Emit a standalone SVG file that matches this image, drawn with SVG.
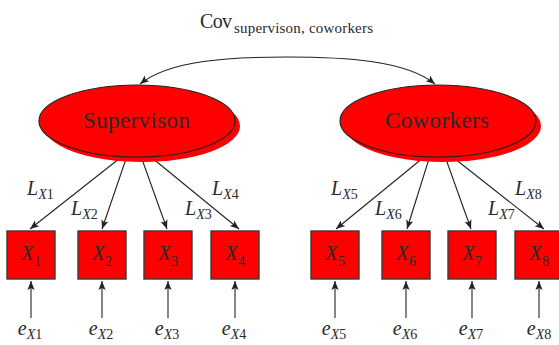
<svg xmlns="http://www.w3.org/2000/svg" width="559" height="345" viewBox="0 0 559 345">
<style>
text{font-family:"Liberation Serif","DejaVu Serif",serif;fill:#2a2a2a}
.lat{fill:#ff0000;stroke:#222;stroke-width:1.2}
.sh{fill:#ff0000;stroke:none}
.box{fill:#ff0000;stroke:#3a3a3a;stroke-width:1.4}
.c{fill:none;stroke:#222;stroke-width:1.1}
.it{font-style:italic}
.nm{font-size:23px}
.bx{font-size:21px}
.lb{font-size:20px}
</style>
<defs>
<marker id="ah" markerUnits="userSpaceOnUse" markerWidth="12" markerHeight="10" viewBox="-10 -5 12 10" refX="0" refY="0" orient="auto">
<path d="M0,0 L-9,-3.6 L-7,0 L-9,3.6 Z" fill="#222"/>
</marker>
</defs>
<text x="200" y="28" font-size="20" textLength="32">Cov</text>
<text x="234" y="33" font-size="15" textLength="139">supervison, coworkers</text>
<g id="connectors">
<path class="c" d="M287,57 C 230,57 170,60 140,84" marker-end="url(#ah)"/>
<path class="c" d="M287,57 C 344,57 405,60 435,84" marker-end="url(#ah)"/>
<line class="c" x1="136.6" y1="145" x2="30" y2="229" marker-end="url(#ah)"/>
<line class="c" x1="130.8" y1="145" x2="102" y2="229" marker-end="url(#ah)"/>
<line class="c" x1="136.9" y1="145" x2="167" y2="229" marker-end="url(#ah)"/>
<line class="c" x1="136.2" y1="145" x2="239" y2="229" marker-end="url(#ah)"/>
<line class="c" x1="438.8" y1="145" x2="336" y2="229" marker-end="url(#ah)"/>
<line class="c" x1="433.3" y1="145" x2="407" y2="229" marker-end="url(#ah)"/>
<line class="c" x1="440.9" y1="145" x2="471" y2="229" marker-end="url(#ah)"/>
<line class="c" x1="437.4" y1="145" x2="544" y2="229" marker-end="url(#ah)"/>
<line class="c" x1="31" y1="318" x2="31" y2="281" marker-end="url(#ah)"/>
<line class="c" x1="102" y1="318" x2="102" y2="281" marker-end="url(#ah)"/>
<line class="c" x1="168" y1="318" x2="168" y2="281" marker-end="url(#ah)"/>
<line class="c" x1="235" y1="318" x2="235" y2="281" marker-end="url(#ah)"/>
<line class="c" x1="335" y1="318" x2="335" y2="281" marker-end="url(#ah)"/>
<line class="c" x1="406" y1="318" x2="406" y2="281" marker-end="url(#ah)"/>
<line class="c" x1="472" y1="318" x2="472" y2="281" marker-end="url(#ah)"/>
<line class="c" x1="539" y1="318" x2="539" y2="281" marker-end="url(#ah)"/>
<g class="lb">
<text x="27" y="195"><tspan class="it">L</tspan><tspan dy="4" font-size="14"><tspan class="it">X</tspan>1</tspan></text>
<text x="71" y="215"><tspan class="it">L</tspan><tspan dy="4" font-size="14"><tspan class="it">X</tspan>2</tspan></text>
<text x="185" y="215"><tspan class="it">L</tspan><tspan dy="4" font-size="14"><tspan class="it">X</tspan>3</tspan></text>
<text x="212" y="195"><tspan class="it">L</tspan><tspan dy="4" font-size="14"><tspan class="it">X</tspan>4</tspan></text>
<text x="331" y="195"><tspan class="it">L</tspan><tspan dy="4" font-size="14"><tspan class="it">X</tspan>5</tspan></text>
<text x="375" y="215"><tspan class="it">L</tspan><tspan dy="4" font-size="14"><tspan class="it">X</tspan>6</tspan></text>
<text x="488" y="215"><tspan class="it">L</tspan><tspan dy="4" font-size="14"><tspan class="it">X</tspan>7</tspan></text>
<text x="515" y="195"><tspan class="it">L</tspan><tspan dy="4" font-size="14"><tspan class="it">X</tspan>8</tspan></text>
</g>
</g>
<g id="supervison">
<ellipse class="sh" cx="142" cy="126" rx="98" ry="36"/>
<ellipse class="lat" cx="137" cy="121" rx="98" ry="36"/>
<text class="nm" x="83" y="128" textLength="107">Supervison</text>
</g>
<g id="coworkers">
<ellipse class="sh" cx="443" cy="126" rx="98" ry="36"/>
<ellipse class="lat" cx="438" cy="121" rx="98" ry="36"/>
<text class="nm" x="385" y="128" textLength="104">Coworkers</text>
</g>
<g id="x1"><rect class="box" x="7" y="231" width="48" height="48"/><text class="bx" x="31" y="260" text-anchor="middle"><tspan class="it">X</tspan><tspan dy="6" font-size="14">1</tspan></text></g>
<g id="x2"><rect class="box" x="78" y="231" width="48" height="48"/><text class="bx" x="102" y="260" text-anchor="middle"><tspan class="it">X</tspan><tspan dy="6" font-size="14">2</tspan></text></g>
<g id="x3"><rect class="box" x="144" y="231" width="48" height="48"/><text class="bx" x="168" y="260" text-anchor="middle"><tspan class="it">X</tspan><tspan dy="6" font-size="14">3</tspan></text></g>
<g id="x4"><rect class="box" x="211" y="231" width="48" height="48"/><text class="bx" x="235" y="260" text-anchor="middle"><tspan class="it">X</tspan><tspan dy="6" font-size="14">4</tspan></text></g>
<g id="x5"><rect class="box" x="311" y="231" width="48" height="48"/><text class="bx" x="335" y="260" text-anchor="middle"><tspan class="it">X</tspan><tspan dy="6" font-size="14">5</tspan></text></g>
<g id="x6"><rect class="box" x="382" y="231" width="48" height="48"/><text class="bx" x="406" y="260" text-anchor="middle"><tspan class="it">X</tspan><tspan dy="6" font-size="14">6</tspan></text></g>
<g id="x7"><rect class="box" x="448" y="231" width="48" height="48"/><text class="bx" x="472" y="260" text-anchor="middle"><tspan class="it">X</tspan><tspan dy="6" font-size="14">7</tspan></text></g>
<g id="x8"><rect class="box" x="515" y="231" width="48" height="48"/><text class="bx" x="539" y="260" text-anchor="middle"><tspan class="it">X</tspan><tspan dy="6" font-size="14">8</tspan></text></g>
<g id="e1"><text class="lb" x="30" y="335" text-anchor="middle"><tspan class="it">e</tspan><tspan dy="4" font-size="14"><tspan class="it">X</tspan>1</tspan></text></g>
<g id="e2"><text class="lb" x="101" y="335" text-anchor="middle"><tspan class="it">e</tspan><tspan dy="4" font-size="14"><tspan class="it">X</tspan>2</tspan></text></g>
<g id="e3"><text class="lb" x="167" y="335" text-anchor="middle"><tspan class="it">e</tspan><tspan dy="4" font-size="14"><tspan class="it">X</tspan>3</tspan></text></g>
<g id="e4"><text class="lb" x="234" y="335" text-anchor="middle"><tspan class="it">e</tspan><tspan dy="4" font-size="14"><tspan class="it">X</tspan>4</tspan></text></g>
<g id="e5"><text class="lb" x="334" y="335" text-anchor="middle"><tspan class="it">e</tspan><tspan dy="4" font-size="14"><tspan class="it">X</tspan>5</tspan></text></g>
<g id="e6"><text class="lb" x="405" y="335" text-anchor="middle"><tspan class="it">e</tspan><tspan dy="4" font-size="14"><tspan class="it">X</tspan>6</tspan></text></g>
<g id="e7"><text class="lb" x="471" y="335" text-anchor="middle"><tspan class="it">e</tspan><tspan dy="4" font-size="14"><tspan class="it">X</tspan>7</tspan></text></g>
<g id="e8"><text class="lb" x="539" y="335" text-anchor="middle"><tspan class="it">e</tspan><tspan dy="4" font-size="14"><tspan class="it">X</tspan>8</tspan></text></g>
</svg>
